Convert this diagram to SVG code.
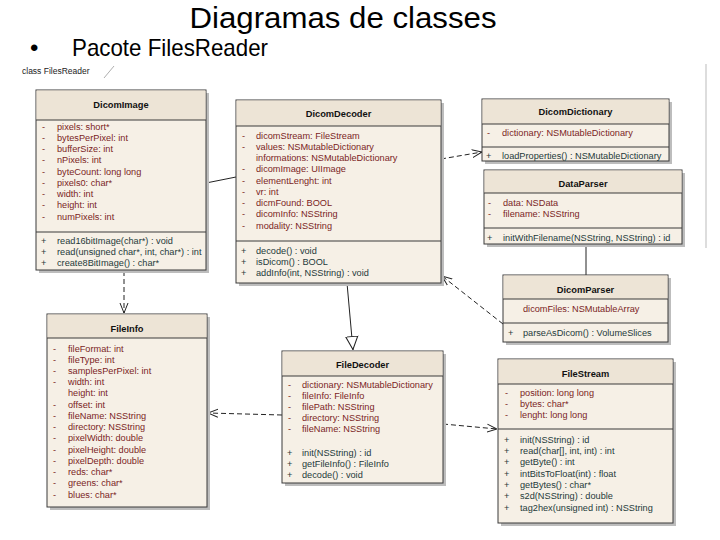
<svg xmlns="http://www.w3.org/2000/svg" width="720" height="540" viewBox="0 0 720 540">
<defs>
<style>
.sh{fill:#bdbdbd}
.bx{fill:#f6f0e6;stroke:#3a3a3a;stroke-width:1}
.hd{fill:#ede4d6}
.ln{stroke:#3a3a3a;stroke-width:1}
.nm{font-family:"Liberation Sans",Arial,sans-serif;font-size:9.3px;font-weight:bold;fill:#111;text-anchor:middle}
.at{font-family:"Liberation Sans",Arial,sans-serif;font-size:9.2px;fill:#7b1e1e}
.mt{font-family:"Liberation Sans",Arial,sans-serif;font-size:9.2px;fill:#1e3a3a}
.cn{fill:none;stroke:#222;stroke-width:1}
.ds{stroke-dasharray:5,3}
</style>
<marker id="open" viewBox="0 0 10 10" refX="10" refY="5" markerWidth="10" markerHeight="10" orient="auto" markerUnits="userSpaceOnUse"><path d="M0,1 L10,5 L0,9" fill="none" stroke="#222" stroke-width="1"/></marker>
<marker id="tri" viewBox="0 0 14 14" refX="14" refY="7" markerWidth="14" markerHeight="14" orient="auto" markerUnits="userSpaceOnUse"><path d="M0.5,1 L13.5,7 L0.5,13 Z" fill="#fff" stroke="#222" stroke-width="1"/></marker>
</defs>
<rect width="720" height="540" fill="#fff"/>
<text x="343" y="28" font-family="'Liberation Sans',Arial,sans-serif" font-size="30" text-anchor="middle" textLength="307" lengthAdjust="spacingAndGlyphs" fill="#000">Diagramas de classes</text>
<text x="30" y="56" font-family="'Liberation Sans',Arial,sans-serif" font-size="24" fill="#000">•</text>
<text x="72" y="56" font-family="'Liberation Sans',Arial,sans-serif" font-size="24" textLength="196" lengthAdjust="spacingAndGlyphs" fill="#000">Pacote FilesReader</text>
<text x="22" y="74" font-family="'Liberation Sans',Arial,sans-serif" font-size="8.5" fill="#222">class FilesReader</text>
<line x1="104" y1="78" x2="114" y2="66" stroke="#999" stroke-width="0.8"/>
<line x1="706" y1="64" x2="706" y2="248" stroke="#bbb" stroke-width="1"/>

<g id="connectors">
<line class="cn ds" x1="124" y1="271" x2="124" y2="313" marker-end="url(#open)"/>
<line class="cn" x1="206" y1="183" x2="236" y2="177"/>
<line class="cn ds" x1="441" y1="159" x2="482" y2="152" marker-end="url(#open)"/>
<line class="cn" x1="347" y1="283" x2="353" y2="350" marker-end="url(#tri)"/>
<line class="cn ds" x1="503" y1="324" x2="442" y2="276" marker-end="url(#open)"/>
<line class="cn" x1="586" y1="244" x2="586" y2="275"/>
<line class="cn ds" x1="282" y1="415" x2="208" y2="413" marker-end="url(#open)"/>
<line class="cn ds" x1="443" y1="424" x2="497" y2="429" marker-end="url(#open)"/>
</g>

<g id="DicomImage">
<rect class="sh" x="39" y="93" width="170" height="180"/>
<rect class="bx" x="36" y="90" width="170" height="180"/>
<rect class="hd" x="36.5" y="90.5" width="169" height="29.5"/>
<line class="ln" x1="36" y1="120" x2="206" y2="120"/>
<line class="ln" x1="36" y1="232" x2="206" y2="232"/>
<text class="nm" x="121" y="107.5">DicomImage</text>
<g class="at">
<text x="42" y="129.5">-</text><text x="57" y="129.5">pixels: short*</text>
<text x="42" y="140.7">-</text><text x="57" y="140.7">bytesPerPixel: int</text>
<text x="42" y="152">-</text><text x="57" y="152">bufferSize: int</text>
<text x="42" y="163.2">-</text><text x="57" y="163.2">nPixels: int</text>
<text x="42" y="174.5">-</text><text x="57" y="174.5">byteCount: long long</text>
<text x="42" y="185.7">-</text><text x="57" y="185.7">pixels0: char*</text>
<text x="42" y="197">-</text><text x="57" y="197">width: int</text>
<text x="42" y="208.2">-</text><text x="57" y="208.2">height: int</text>
<text x="42" y="219.5">-</text><text x="57" y="219.5">numPixels: int</text>
</g>
<g class="mt">
<text x="41" y="243.5">+</text><text x="57" y="243.5">read16bitImage(char*) : void</text>
<text x="41" y="254.5">+</text><text x="57" y="254.5">read(unsigned char*, int, char*) : int</text>
<text x="41" y="265.5">+</text><text x="57" y="265.5">create8BitImage() : char*</text>
</g>
</g>

<g id="DicomDecoder">
<rect class="sh" x="239" y="103" width="205" height="183"/>
<rect class="bx" x="236" y="100" width="205" height="183"/>
<rect class="hd" x="236.5" y="100.5" width="204" height="25.5"/>
<line class="ln" x1="236" y1="126" x2="441" y2="126"/>
<line class="ln" x1="236" y1="241" x2="441" y2="241"/>
<text class="nm" x="338.5" y="117">DicomDecoder</text>
<g class="at">
<text x="242" y="138.5">-</text><text x="256" y="138.5">dicomStream: FileStream</text>
<text x="242" y="149.7">-</text><text x="256" y="149.7">values: NSMutableDictionary</text>
<text x="256" y="161">informations: NSMutableDictionary</text>
<text x="242" y="172.2">-</text><text x="256" y="172.2">dicomImage: UIImage</text>
<text x="242" y="183.5">-</text><text x="256" y="183.5">elementLenght: int</text>
<text x="242" y="194.7">-</text><text x="256" y="194.7">vr: int</text>
<text x="242" y="206">-</text><text x="256" y="206">dicmFound: BOOL</text>
<text x="242" y="217.2">-</text><text x="256" y="217.2">dicomInfo: NSString</text>
<text x="242" y="228.5">-</text><text x="256" y="228.5">modality: NSString</text>
</g>
<g class="mt">
<text x="241" y="253.5">+</text><text x="256" y="253.5">decode() : void</text>
<text x="241" y="264.5">+</text><text x="256" y="264.5">isDicom() : BOOL</text>
<text x="241" y="275.5">+</text><text x="256" y="275.5">addInfo(int, NSString) : void</text>
</g>
</g>

<g id="DicomDictionary">
<rect class="sh" x="485" y="102" width="187" height="62"/>
<rect class="bx" x="482" y="99" width="187" height="62"/>
<rect class="hd" x="482.5" y="99.5" width="186" height="24.5"/>
<line class="ln" x1="482" y1="124" x2="669" y2="124"/>
<line class="ln" x1="482" y1="147" x2="669" y2="147"/>
<text class="nm" x="575.5" y="114.5">DicomDictionary</text>
<text class="at" x="487" y="135.5">-</text><text class="at" x="502" y="135.5">dictionary: NSMutableDictionary</text>
<text class="mt" x="486" y="158.5">+</text><text class="mt" x="502" y="158.5">loadProperties() : NSMutableDictionary</text>
</g>

<g id="DataParser">
<rect class="sh" x="487" y="173" width="198" height="74"/>
<rect class="bx" x="484" y="170" width="198" height="74"/>
<rect class="hd" x="484.5" y="170.5" width="197" height="22.5"/>
<line class="ln" x1="484" y1="193" x2="682" y2="193"/>
<line class="ln" x1="484" y1="228" x2="682" y2="228"/>
<text class="nm" x="583" y="186.5">DataParser</text>
<text class="at" x="488" y="205.5">-</text><text class="at" x="503" y="205.5">data: NSData</text>
<text class="at" x="488" y="216.5">-</text><text class="at" x="503" y="216.5">filename: NSString</text>
<text class="mt" x="487" y="240.5">+</text><text class="mt" x="503" y="240.5">initWithFilename(NSString, NSString) : id</text>
</g>

<g id="DicomParser">
<rect class="sh" x="506" y="278" width="165" height="67"/>
<rect class="bx" x="503" y="275" width="165" height="67"/>
<rect class="hd" x="503.5" y="275.5" width="164" height="23.5"/>
<line class="ln" x1="503" y1="299" x2="668" y2="299"/>
<line class="ln" x1="503" y1="323" x2="668" y2="323"/>
<text class="nm" x="585.5" y="292.5">DicomParser</text>
<text class="at" x="523" y="311.5">dicomFiles: NSMutableArray</text>
<text class="mt" x="508" y="335.5">+</text><text class="mt" x="523" y="335.5">parseAsDicom() : VolumeSlices</text>
</g>

<g id="FileInfo">
<rect class="sh" x="50" y="317" width="160" height="193"/>
<rect class="bx" x="47" y="314" width="160" height="193"/>
<rect class="hd" x="47.5" y="314.5" width="159" height="23.5"/>
<line class="ln" x1="47" y1="338" x2="207" y2="338"/>
<text class="nm" x="127" y="331.5">FileInfo</text>
<g class="at">
<text x="53" y="351.5">-</text><text x="68" y="351.5">fileFormat: int</text>
<text x="53" y="362.7">-</text><text x="68" y="362.7">fileType: int</text>
<text x="53" y="374">-</text><text x="68" y="374">samplesPerPixel: int</text>
<text x="53" y="385.2">-</text><text x="68" y="385.2">width: int</text>
<text x="68" y="396.4">height: int</text>
<text x="53" y="407.6">-</text><text x="68" y="407.6">offset: int</text>
<text x="53" y="418.9">-</text><text x="68" y="418.9">fileName: NSString</text>
<text x="53" y="430.1">-</text><text x="68" y="430.1">directory: NSString</text>
<text x="53" y="441.3">-</text><text x="68" y="441.3">pixelWidth: double</text>
<text x="53" y="452.6">-</text><text x="68" y="452.6">pixelHeight: double</text>
<text x="53" y="463.8">-</text><text x="68" y="463.8">pixelDepth: double</text>
<text x="53" y="475">-</text><text x="68" y="475">reds: char*</text>
<text x="53" y="486.3">-</text><text x="68" y="486.3">greens: char*</text>
<text x="53" y="497.5">-</text><text x="68" y="497.5">blues: char*</text>
</g>
</g>

<g id="FileDecoder">
<rect class="sh" x="285" y="354" width="161" height="132"/>
<rect class="bx" x="282" y="351" width="161" height="132"/>
<rect class="hd" x="282.5" y="351.5" width="160" height="24.5"/>
<line class="ln" x1="282" y1="376" x2="443" y2="376"/>
<text class="nm" x="362.5" y="367.5">FileDecoder</text>
<g class="at">
<text x="288" y="387.5">-</text><text x="302" y="387.5">dictionary: NSMutableDictionary</text>
<text x="288" y="398.5">-</text><text x="302" y="398.5">fileInfo: FileInfo</text>
<text x="288" y="409.5">-</text><text x="302" y="409.5">filePath: NSString</text>
<text x="288" y="420.5">-</text><text x="302" y="420.5">directory: NSString</text>
<text x="288" y="431.5">-</text><text x="302" y="431.5">fileName: NSString</text>
</g>
<g class="mt">
<text x="287" y="455.5">+</text><text x="302" y="455.5">init(NSString) : id</text>
<text x="287" y="466.5">+</text><text x="302" y="466.5">getFileInfo() : FileInfo</text>
<text x="287" y="477.5">+</text><text x="302" y="477.5">decode() : void</text>
</g>
</g>

<g id="FileStream">
<rect class="sh" x="501" y="362" width="175" height="164"/>
<rect class="bx" x="498" y="359" width="175" height="164"/>
<rect class="hd" x="498.5" y="359.5" width="174" height="24.5"/>
<line class="ln" x1="498" y1="384" x2="673" y2="384"/>
<line class="ln" x1="498" y1="429" x2="673" y2="429"/>
<text class="nm" x="585.5" y="376.5">FileStream</text>
<g class="at">
<text x="505" y="395.5">-</text><text x="520" y="395.5">position: long long</text>
<text x="505" y="406.5">-</text><text x="520" y="406.5">bytes: char*</text>
<text x="505" y="417.5">-</text><text x="520" y="417.5">lenght: long long</text>
</g>
<g class="mt">
<text x="504" y="442.5">+</text><text x="520" y="442.5">init(NSString) : id</text>
<text x="504" y="453.8">+</text><text x="520" y="453.8">read(char[], int, int) : int</text>
<text x="504" y="465.2">+</text><text x="520" y="465.2">getByte() : int</text>
<text x="504" y="476.5">+</text><text x="520" y="476.5">intBitsToFloat(int) : float</text>
<text x="504" y="487.8">+</text><text x="520" y="487.8">getBytes() : char*</text>
<text x="504" y="499.2">+</text><text x="520" y="499.2">s2d(NSString) : double</text>
<text x="504" y="510.5">+</text><text x="520" y="510.5">tag2hex(unsigned int) : NSString</text>
</g>
</g>
</svg>
